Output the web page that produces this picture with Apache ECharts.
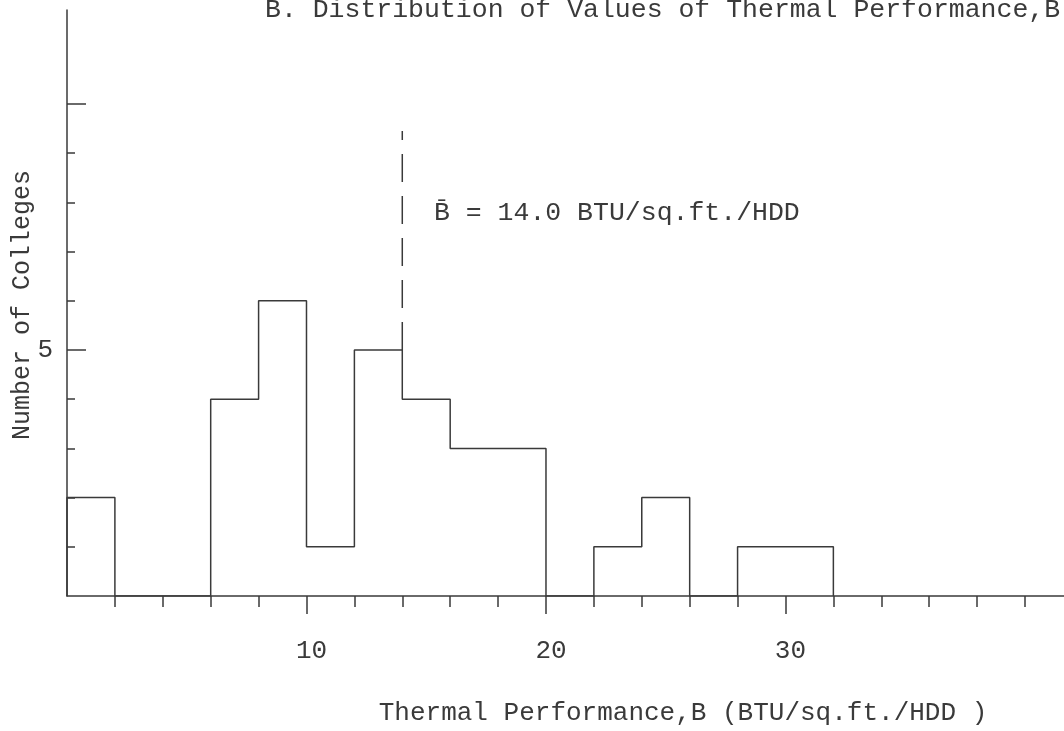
<!DOCTYPE html>
<html>
<head>
<meta charset="utf-8">
<script src="https://cdn.jsdelivr.net/npm/echarts@6/dist/echarts.min.js"></script>
<style>html,body{margin:0;padding:0;background:#fff;}#c{width:1064px;height:731px;}</style>
</head>
<body>
<div id="c"></div>
<script>
// Histogram bins (left edges, width 2) and counts
const binEdges = [0, 2, 4, 6, 8, 10, 12, 14, 16, 18, 20, 22, 24, 26, 28, 30, 32];
const counts   = [2, 0, 0, 4, 6, 1, 5, 4, 3, 3, 0, 1, 2, 0, 1, 1];
const meanValue = 14.0;
const meanLineRange = [5, 9.45];
const xSmallTicks = [2,4,6,8,12,14,16,18,22,24,26,28,32,34,36,38,40];
const xBigTicks = [10, 20, 30];
const xLabels = [10, 20, 30];
const ySmallTicks = [1,2,3,4,6,7,8,9];
const yBigTicks = [5, 10];
const yLabels = [5];
const titleText = 'B. Distribution of Values of Thermal Performance,B';
const yName = 'Number of Colleges';
const xName = 'Thermal Performance,B (BTU/sq.ft./HDD )';
const meanText = 'B\u0304 = 14.0 BTU/sq.ft./HDD';

const FONT = 'Liberation Mono';
const INK = '#3a3a3a';

// step outline data
const stepData = [[binEdges[0], 0]];
for (let i = 0; i < counts.length; i++) stepData.push([binEdges[i], counts[i]]);
stepData.push([binEdges[binEdges.length - 1], 0]);

const chart = echarts.init(document.getElementById('c'));
const xCommon = {type: 'value', min: 0, max: 41.63, position: 'bottom', splitLine: {show: false}};
const yCommon = {type: 'value', min: 0, max: 11.91, position: 'left', splitLine: {show: false}};
chart.setOption({
  backgroundColor: '#fff',
  animation: false,
  grid: {left: 67, right: 0, top: 10, bottom: 135},
  xAxis: [
    Object.assign({}, xCommon, {
      axisLine: {show: true, lineStyle: {color: INK, width: 1.5}},
      axisTick: {show: true, length: 11, customValues: xSmallTicks, lineStyle: {color: INK, width: 1.5}},
      axisLabel: {show: true, customValues: xLabels, margin: 42, padding: [0, 0, 0, 10], fontFamily: FONT, fontSize: 26, color: INK}
    }),
    Object.assign({}, xCommon, {
      axisLine: {show: false},
      axisTick: {show: true, length: 18, customValues: xBigTicks, lineStyle: {color: INK, width: 1.5}},
      axisLabel: {show: false}
    })
  ],
  yAxis: [
    Object.assign({}, yCommon, {
      axisLine: {show: true, lineStyle: {color: INK, width: 1.5}},
      axisTick: {show: true, inside: true, length: 8, customValues: ySmallTicks, lineStyle: {color: INK, width: 1.5}},
      axisLabel: {show: true, customValues: yLabels, margin: 14, padding: [0, 0, 10, 0], fontFamily: FONT, fontSize: 26, color: INK}
    }),
    Object.assign({}, yCommon, {
      axisLine: {show: false},
      axisTick: {show: true, inside: true, length: 19, customValues: yBigTicks, lineStyle: {color: INK, width: 1.5}},
      axisLabel: {show: false}
    })
  ],
  series: [
    {
      type: 'line', step: 'end', data: stepData, symbol: 'none',
      xAxisIndex: 0, yAxisIndex: 0,
      lineStyle: {color: INK, width: 1.5}
    },
    {
      type: 'line', data: [[meanValue, meanLineRange[0]], [meanValue, meanLineRange[1]]], symbol: 'none',
      xAxisIndex: 0, yAxisIndex: 0,
      lineStyle: {color: INK, width: 1.5, type: [28, 14]}
    }
  ],
  graphic: [
    {type: 'text', left: 265, top: -4, style: {text: titleText, font: '26.5px ' + FONT, fill: INK}},
    {type: 'text', x: 22, y: 305, rotation: Math.PI / 2, style: {text: yName, font: '25px ' + FONT, fill: INK, align: 'center', verticalAlign: 'middle'}},
    {type: 'text', x: 683, y: 713, style: {text: xName, font: '26px ' + FONT, fill: INK, align: 'center', verticalAlign: 'middle'}},
    {type: 'text', x: 434, y: 213, style: {text: meanText, font: '26.5px ' + FONT, fill: INK, align: 'left', verticalAlign: 'middle'}}
  ]
});
</script>
</body>
</html>
